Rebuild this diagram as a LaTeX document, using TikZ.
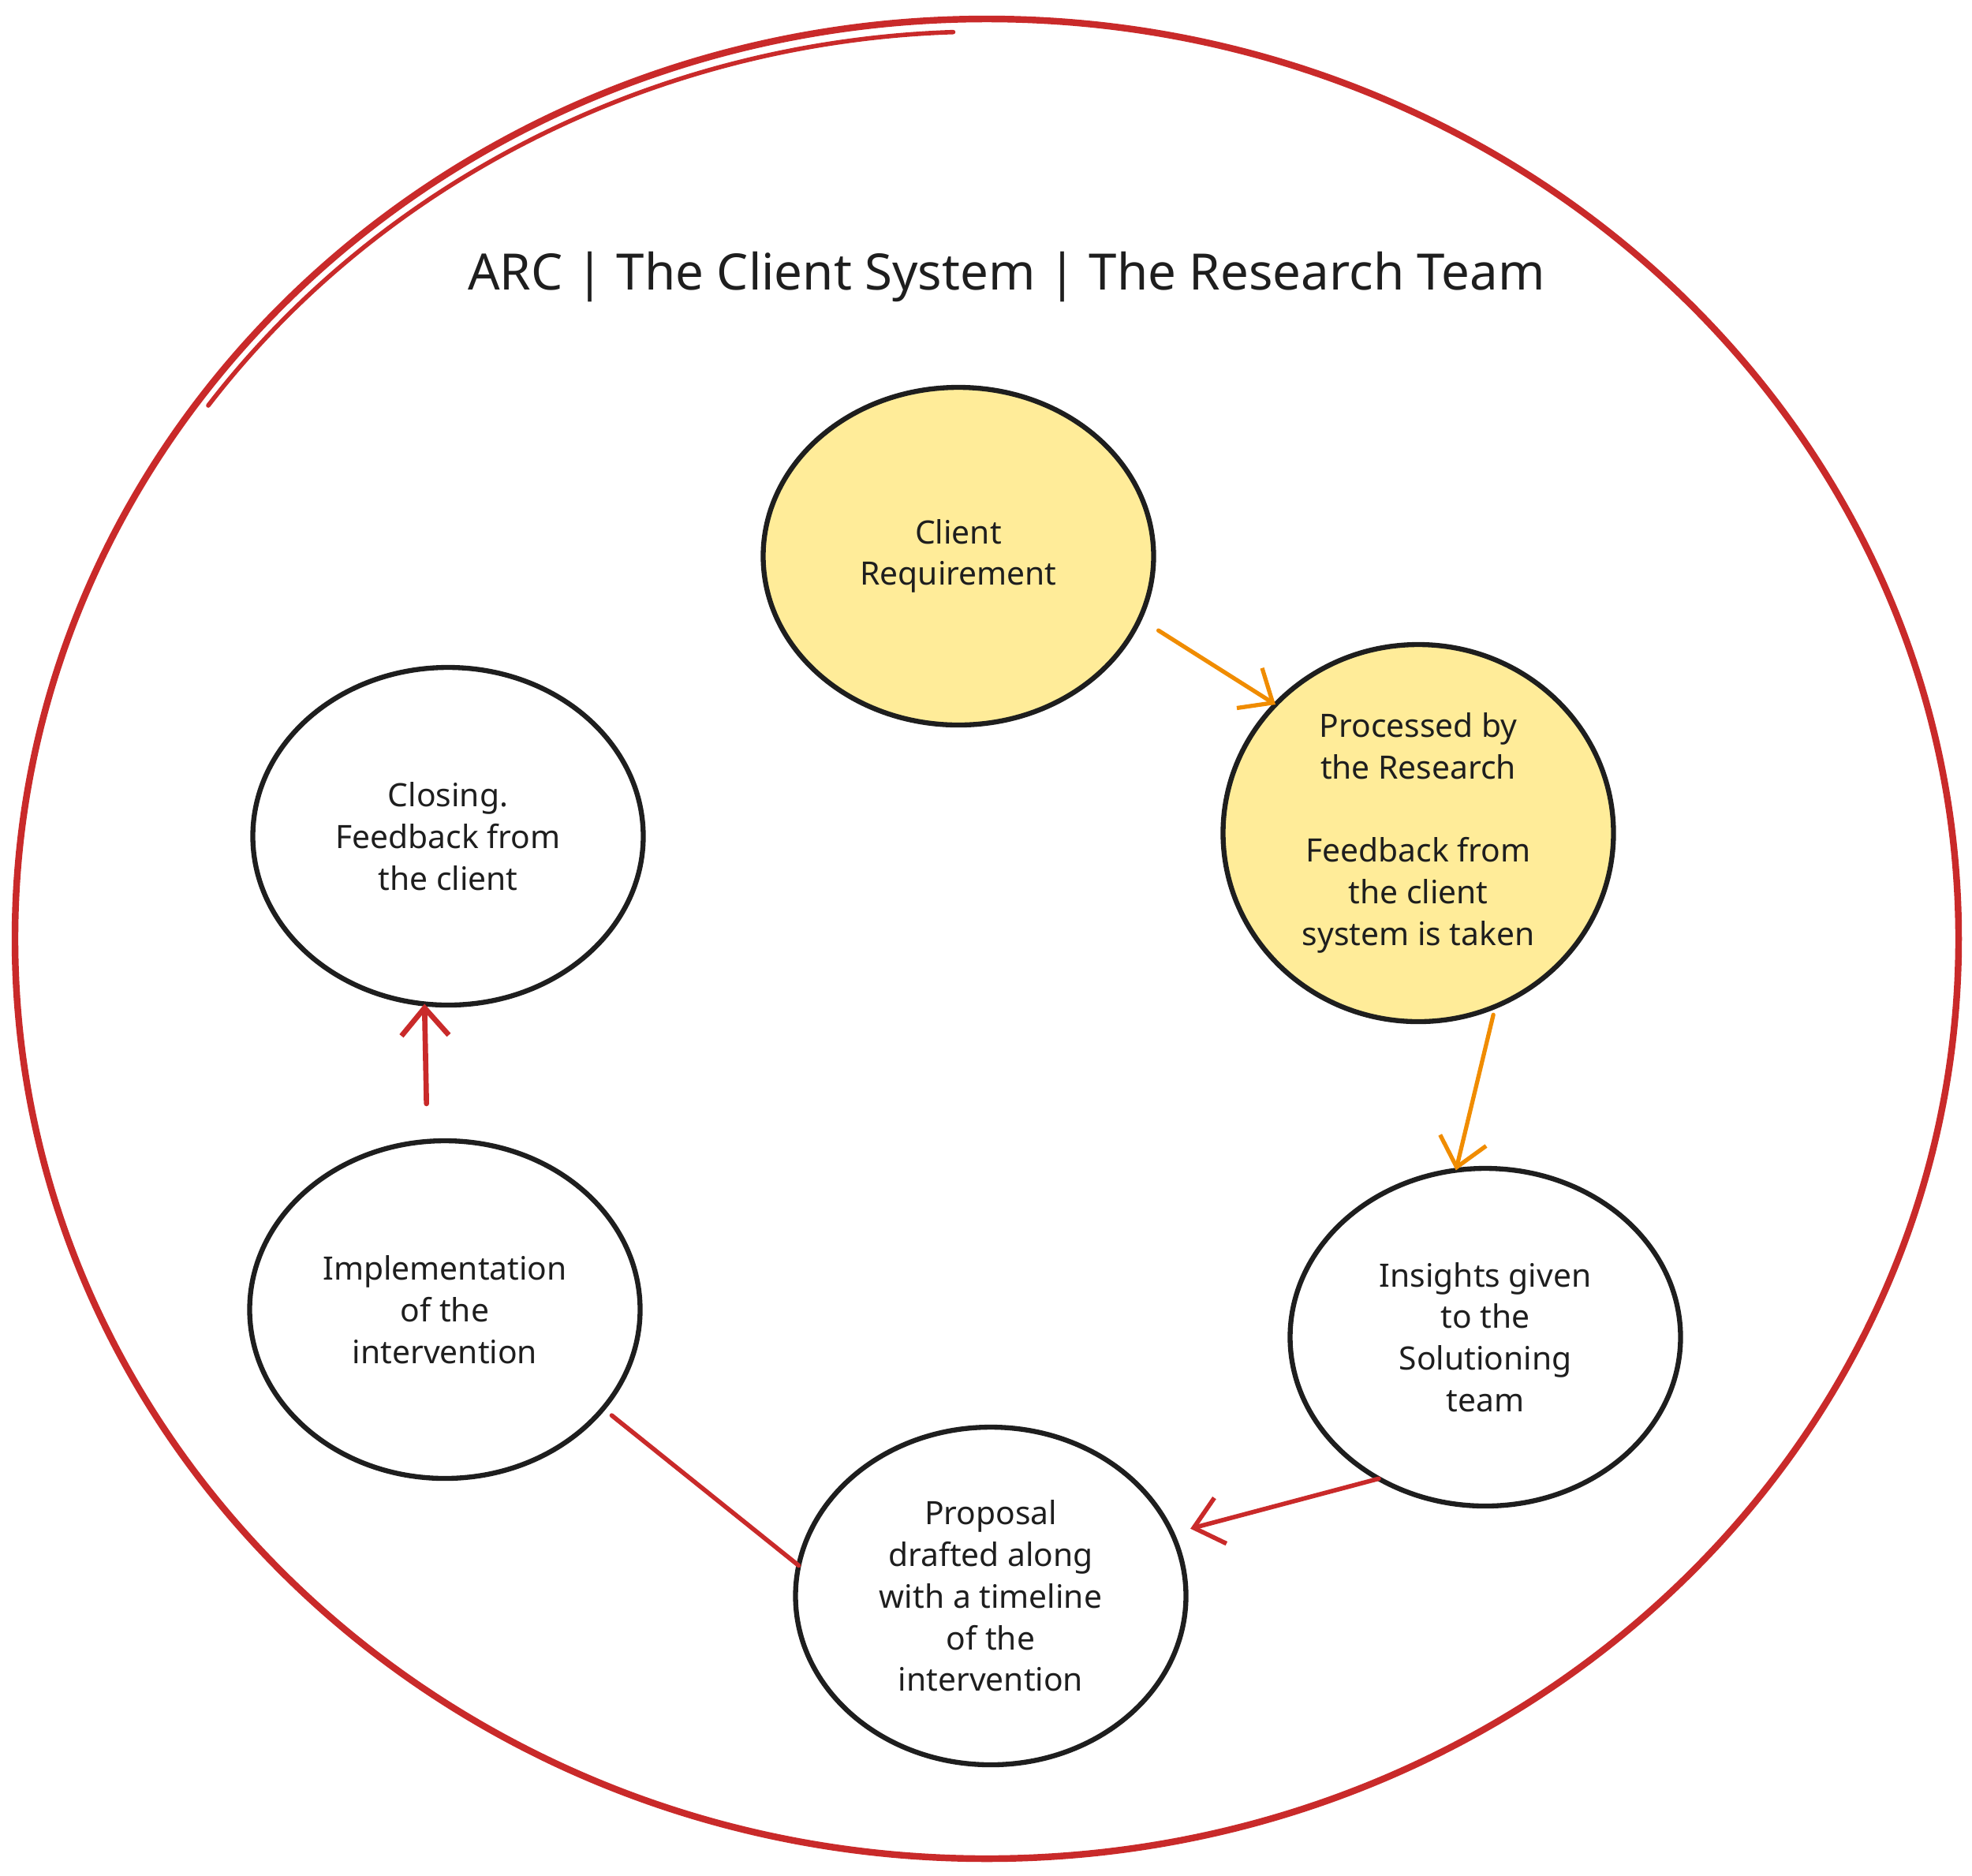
\documentclass[tikz,border=0pt]{standalone}
\usepackage{fontspec}
\setmainfont{Noto Sans}
\usetikzlibrary{shapes.geometric,arrows.meta,positioning}
\definecolor{ink}{HTML}{1E1E1E}
\definecolor{stage}{HTML}{FFEC99}
\definecolor{loopred}{HTML}{C92A2A}
\definecolor{flow}{HTML}{F08C00}

\begin{document}
\begin{tikzpicture}[>={Straight Barb[length=3.5mm,width=6mm]},
  bubble/.style={ellipse,draw=ink,line width=1.8pt,inner sep=0pt,outer sep=0pt,
    minimum width=4.95cm,minimum height=4.28cm,align=center,text=ink,
    font=\fontsize{11.6}{15}\selectfont},
  hot/.style={bubble,fill=stage},
  orangeline/.style={->,flow,line width=1.5pt,line cap=round},
  redline/.style={loopred,line width=1.6pt,line cap=round}]
  \useasboundingbox (0,0) rectangle (25,-23.77);

  % outer loop
  \draw[loopred,line width=2.4pt] (12.51,-11.90) ellipse [x radius=12.32cm,y radius=11.66cm];
  \draw[loopred,line width=1.6pt,line cap=round]
       (2.64,-5.14) arc [start angle=144,end angle=92,x radius=12.2cm,y radius=11.5cm];

  % title
  \node[text=ink,font=\fontsize{18.1}{21}\selectfont] (title) at (12.76,-3.51)
       {ARC | The Client System | The Research Team};

  % stages
  \node[hot] (req) at (12.15,-7.05) {Client\\Requirement};
  \node[hot,minimum height=4.78cm] (proc) at (17.98,-10.56)
       {Processed by\\the Research\\[15pt]Feedback from\\the client\\system is taken};
  \node[bubble] (insight) at (18.83,-16.95)
       {Insights given\\to the\\Solutioning\\team};
  \node[bubble] (prop) at (12.56,-20.23)
       {Proposal\\drafted along\\with a timeline\\of the\\intervention};
  \node[bubble] (impl) at (5.64,-16.60) {Implementation\\of the\\intervention};
  \node[bubble] (close) at (5.68,-10.60) {Closing.\\Feedback from\\the client};

  % connectors
  \draw[orangeline,shorten <=0.28cm] (req.-19) -- (proc.138);
  \draw[orangeline,shorten <=0.11cm] (proc.-66) -- (insight.100);
  \draw[redline,->,shorten >=0.24cm] (insight.233) -- (prop.19);
  \draw[redline,shorten >=0.14cm] (prop.171) -- (impl.-32);
  \draw[redline,->,line width=1.9pt,shorten <=0.48cm] (impl.96) -- (close.262);
\end{tikzpicture}
\end{document}
